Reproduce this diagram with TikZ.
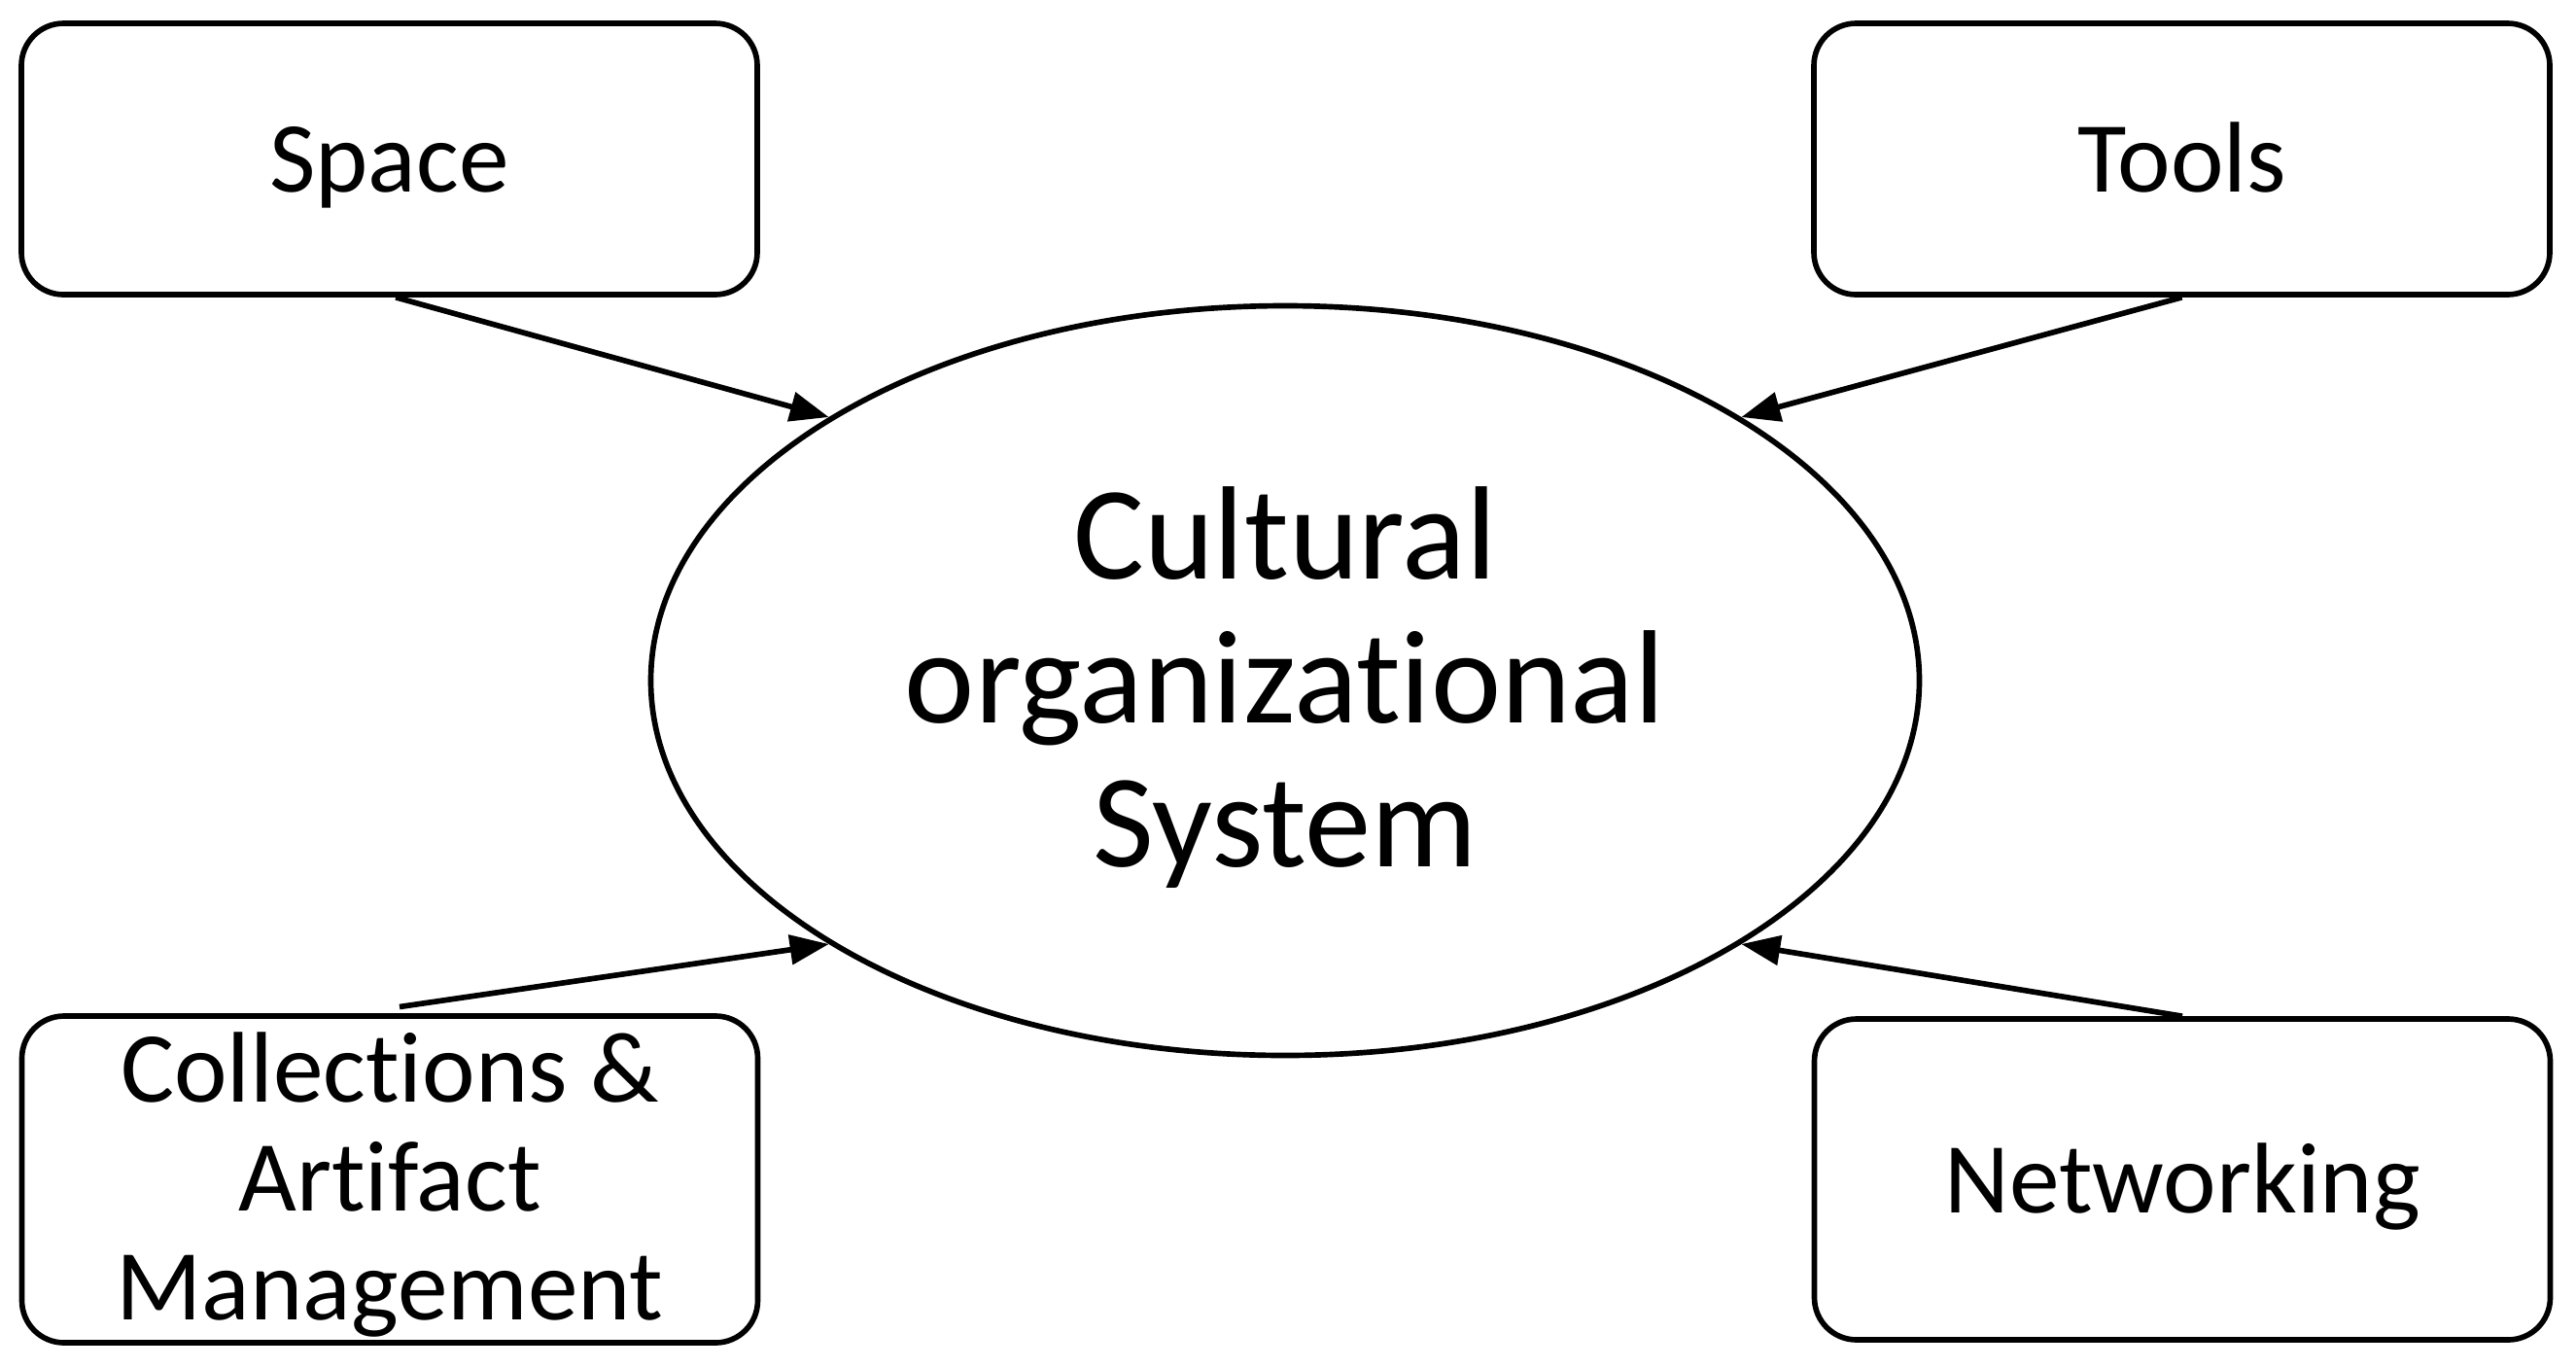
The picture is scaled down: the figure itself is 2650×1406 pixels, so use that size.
\documentclass[tikz,border=0pt]{standalone}
\usepackage{fontspec}
\setmainfont[RawFeature={-liga;-dlig}]{Carlito}
\usetikzlibrary{arrows.meta,shapes.geometric}
\newcommand\boxlbl[2][0pt]{\raisebox{#1}[\height][\depth]{\fontsize{31}{33.6}\selectfont\begin{tabular}{@{}c@{}}#2\end{tabular}}}
\newcommand\syslbl[1]{\raisebox{-4.3pt}[\height][\depth]{\fontsize{41}{44.4}\selectfont\begin{tabular}{@{}c@{}}#1\end{tabular}}}
\begin{document}
\begin{tikzpicture}[x=0.3pt,y=-0.3pt,line width=1.7pt,
  box/.style={draw, rounded corners=13pt, minimum width=227.1pt, inner sep=0pt},
  sysnode/.style={draw, ellipse, minimum width=391.5pt, minimum height=231.3pt, inner sep=0pt},
  arr/.style={-{Triangle[length=12pt,width=9pt]}}]
\useasboundingbox (0,0) rectangle (2650,1406);
\node[box, minimum height=83.7pt] (space) at (400.5,163.5) {\boxlbl[-3.6pt]{Space}};
\node[box, minimum height=83.7pt] (tools) at (2244.5,163.5) {\boxlbl[-3.6pt]{Tools}};
\node[box, minimum height=99pt] (coll) at (401,1213) {\boxlbl[-3pt]{Collections \&\\Artifact\\Management}};
\node[box, minimum height=99pt] (net) at (2245,1213) {\boxlbl[-3.5pt]{Networking}};
\node[sysnode] (sys) at (1322,700) {\syslbl{Cultural\\organizational\\System}};
\draw[arr] ([xshift=2pt]space.south) -- (sys.150);
\draw[arr] (tools.south) -- (sys.30);
\draw[arr] ([xshift=3pt,yshift=2pt]coll.north) -- (sys.210);
\draw[arr] (net.north) -- (sys.330);
\end{tikzpicture}
\end{document}
